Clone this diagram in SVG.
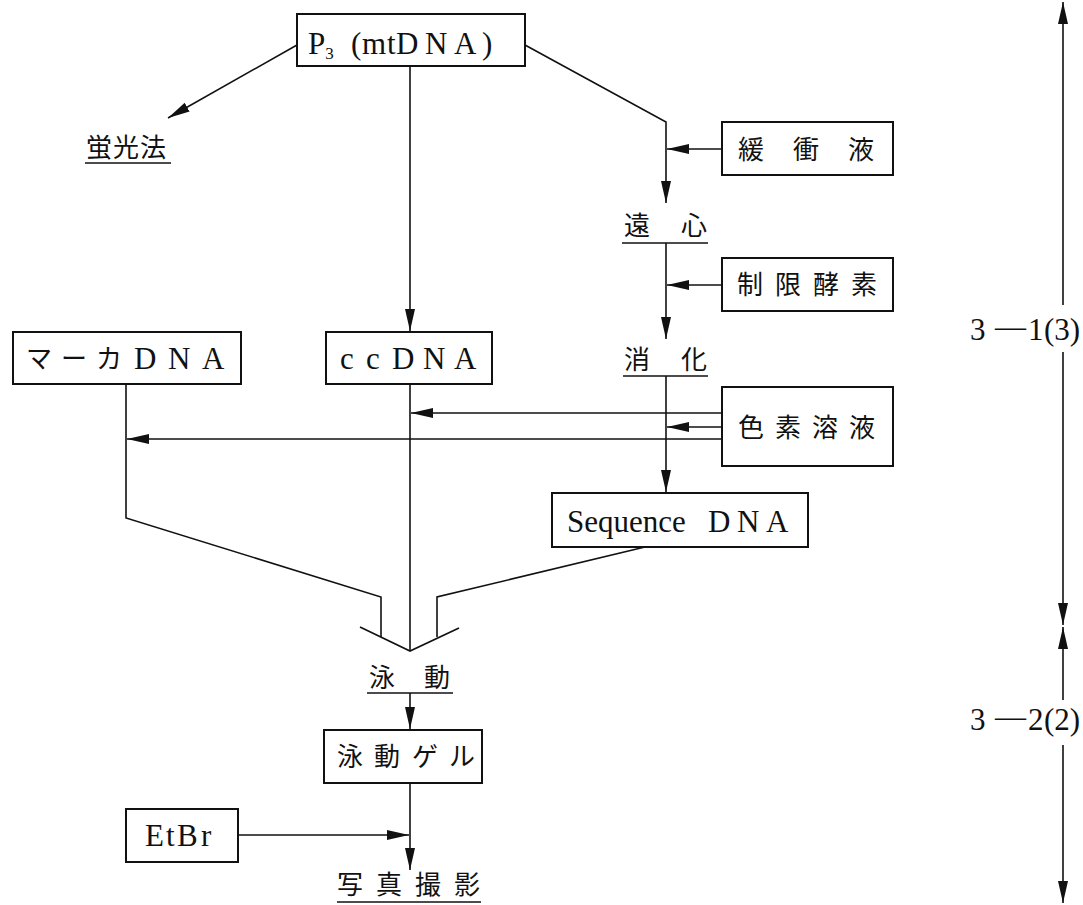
<svg xmlns="http://www.w3.org/2000/svg" width="1083" height="905" viewBox="0 0 1083 905">
<defs>
<style>
.box{fill:#fff;stroke:#111;stroke-width:2}
.ln{fill:none;stroke:#111;stroke-width:1.6}
.ul{stroke:#111;stroke-width:1.6}
.lt{font-family:"Liberation Serif","Noto Sans CJK JP",serif;font-size:31px;fill:#111}
.jp{font-family:"Noto Sans CJK JP","Liberation Serif",sans-serif;font-size:26px;fill:#111}
</style>
<marker id="ah" markerUnits="userSpaceOnUse" markerWidth="23" markerHeight="11" refX="22" refY="5" orient="auto">
<path d="M0,0 L22,5 L0,10 z" fill="#111"/>
</marker>
</defs>
<rect width="1083" height="905" fill="#fff"/>

<g id="connectors">
<line class="ln" x1="297" y1="45" x2="168" y2="118" marker-end="url(#ah)"/>
<polyline class="ln" points="525,45 666,122 666,203" marker-end="url(#ah)"/>
<line class="ln" x1="722" y1="149" x2="667" y2="149" marker-end="url(#ah)"/>
<line class="ln" x1="666" y1="243" x2="666" y2="339" marker-end="url(#ah)"/>
<line class="ln" x1="722" y1="285" x2="667" y2="285" marker-end="url(#ah)"/>
<line class="ln" x1="666" y1="376" x2="666" y2="492" marker-end="url(#ah)"/>
<line class="ln" x1="722" y1="413" x2="411" y2="413" marker-end="url(#ah)"/>
<line class="ln" x1="722" y1="427" x2="667" y2="427" marker-end="url(#ah)"/>
<line class="ln" x1="722" y1="439" x2="127" y2="439" marker-end="url(#ah)"/>
<line class="ln" x1="410" y1="66" x2="410" y2="331" marker-end="url(#ah)"/>
<line class="ln" x1="410" y1="384" x2="410" y2="651"/>
<polyline class="ln" points="126,384 126,518 381,597 381,637"/>
<polyline class="ln" points="645,547 437,597 437,637"/>
<polyline class="ln" points="360,627 410,651 459,628"/>
<line class="ln" x1="410" y1="693" x2="410" y2="729" marker-end="url(#ah)"/>
<line class="ln" x1="410" y1="783" x2="410" y2="870" marker-end="url(#ah)"/>
<line class="ln" x1="238" y1="835" x2="409" y2="835" marker-end="url(#ah)"/>
<line class="ln" x1="1063" y1="305" x2="1063" y2="2" marker-end="url(#ah)"/>
<line class="ln" x1="1063" y1="352" x2="1063" y2="625" marker-end="url(#ah)"/>
<line class="ln" x1="1063" y1="700" x2="1063" y2="627" marker-end="url(#ah)"/>
<line class="ln" x1="1063" y1="745" x2="1063" y2="903" marker-end="url(#ah)"/>
</g>

<g id="p3">
<rect class="box" x="297" y="14" width="228" height="52"/>
<text class="lt" font-size="32" x="308" y="54">P<tspan font-size="17" dy="5">3</tspan></text>
<text class="lt" font-size="32" x="351 362 387 396 425 454 482" y="54">(mtDNA)</text>
</g>

<g id="keikouhou">
<text class="jp" x="86" y="157" letter-spacing="1">蛍光法</text>
<line class="ul" x1="85" y1="163" x2="171" y2="163"/>
</g>

<g id="kanshoueki">
<rect class="box" x="722" y="122" width="171" height="53"/>
<text class="jp" x="738 793 848" y="159">緩衝液</text>
</g>

<g id="enshin">
<text class="jp" x="624 681" y="235">遠心</text>
<line class="ul" x1="622" y1="243" x2="708" y2="243"/>
</g>

<g id="seigen">
<rect class="box" x="722" y="258" width="171" height="53"/>
<text class="jp" x="737 775 813 851" y="294">制限酵素</text>
</g>

<g id="shouka">
<text class="jp" x="624 681" y="369">消化</text>
<line class="ul" x1="623" y1="376" x2="708" y2="376"/>
</g>

<g id="shikiso">
<rect class="box" x="722" y="387" width="171" height="79"/>
<text class="jp" x="738 775 812 849" y="437">色素溶液</text>
</g>

<g id="marker">
<rect class="box" x="13" y="332" width="228" height="52"/>
<text class="jp" x="26 61 96" y="368">マーカ</text>
<text class="lt" x="134 168 202" y="369">DNA</text>
</g>

<g id="ccdna">
<rect class="box" x="326" y="332" width="166" height="52"/>
<text class="lt" x="340 366 392 423 454" y="369">ccDNA</text>
</g>

<g id="sequence">
<rect class="box" x="552" y="493" width="256" height="54"/>
<text class="lt" font-size="29" x="567" y="532">Sequence</text>
<text class="lt" x="708 737 766" y="532">DNA</text>
</g>

<g id="eidou">
<text class="jp" x="369 424" y="687">泳動</text>
<line class="ul" x1="367" y1="693" x2="453" y2="693"/>
</g>

<g id="eidougel">
<rect class="box" x="324" y="730" width="158" height="53"/>
<text class="jp" x="337 374 412 449" y="766">泳動ゲル</text>
</g>

<g id="etbr">
<rect class="box" x="126" y="809" width="112" height="53"/>
<text class="lt" x="145 166 177 201" y="846">EtBr</text>
</g>

<g id="shashin">
<text class="jp" x="337 376 415 454" y="894">写真撮影</text>
<line class="ul" x1="337" y1="902" x2="481" y2="902"/>
</g>

<g id="stage1">
<text class="lt" font-size="26" x="970" y="340">3</text>
<text class="lt" font-size="21" x="995" y="337">—</text>
<text class="lt" font-size="26" x="1028" y="340">1</text>
<text class="lt" font-size="20" x="1044" y="340">(3)</text>
</g>
<g id="stage2">
<text class="lt" font-size="26" x="970" y="730">3</text>
<text class="lt" font-size="21" x="995" y="727">—</text>
<text class="lt" font-size="26" x="1028" y="730">2</text>
<text class="lt" font-size="20" x="1044" y="730">(2)</text>
</g>
</svg>
